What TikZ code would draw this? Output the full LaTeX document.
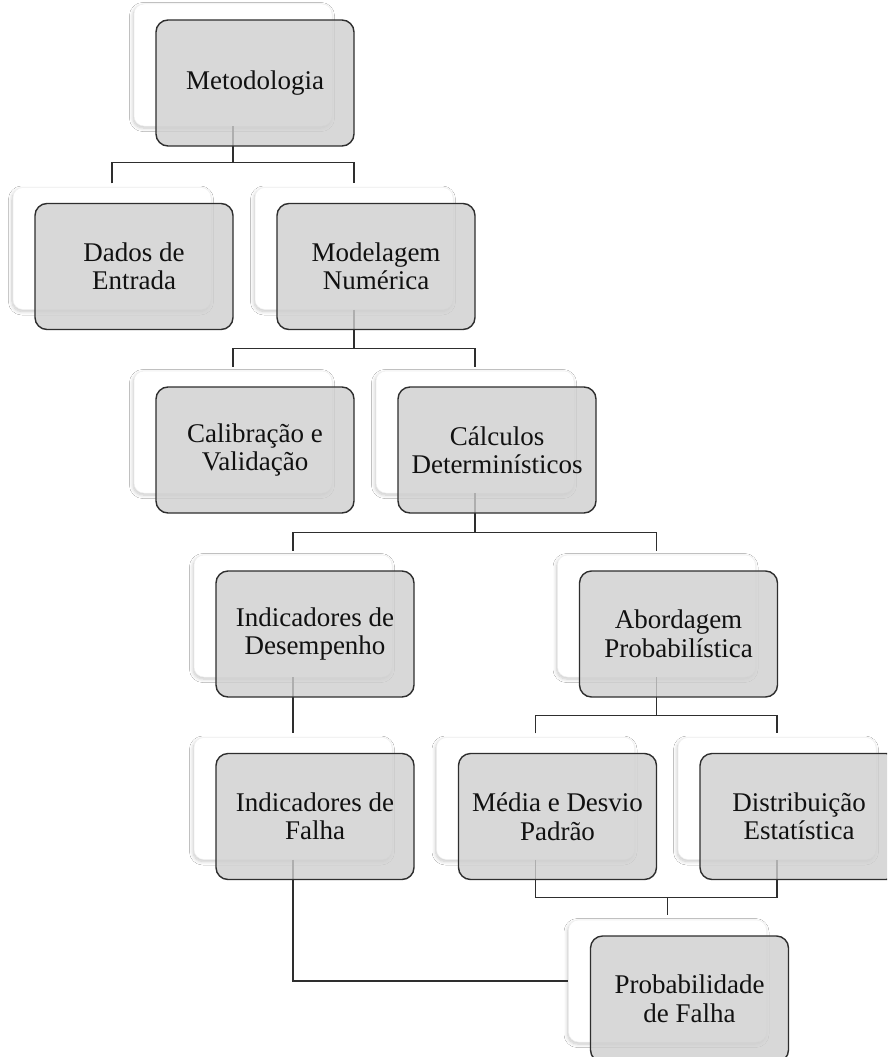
\documentclass[tikz,border=0pt]{standalone}
\usepackage{fontspec}
\setmainfont{Liberation Serif}
\usetikzlibrary{shadows.blur}
\definecolor{boxfill}{HTML}{CFCFCF}
\definecolor{inkline}{HTML}{2E2E2E}
\definecolor{inktext}{HTML}{111111}
\tikzset{
  backbox/.style={rectangle, rounded corners=10pt, minimum width=198pt,
    minimum height=122pt, fill=white, draw=black!6, line width=0.5pt,
    blur shadow={shadow xshift=-1pt, shadow yshift=-2pt,
      shadow blur radius=3.5pt, shadow blur steps=8, shadow opacity=22}},
  graybox/.style={rectangle, rounded corners=12pt, minimum width=198pt,
    minimum height=126pt, fill=boxfill, fill opacity=0.8, text opacity=1,
    draw=inkline, line width=1.4pt, align=center, text=inktext,
    font=\fontsize{27}{28.5}\selectfont},
  link/.style={draw=inkline, line width=1.5pt}
}
\begin{document}
\begin{tikzpicture}[x=1pt, y=-1pt]
\useasboundingbox (0,0) rectangle (887,1057);
\clip (0,0) rectangle (887,1057);
\fill[white] (0,0) rectangle (887,1057);

% white card behind each box
\node[backbox] (b1)  at (233, 65) {};
\node[backbox] (b2)  at (112, 248.5) {};
\node[backbox] (b3)  at (354, 248.5) {};
\node[backbox] (b4)  at (233, 432) {};
\node[backbox] (b5)  at (475, 432) {};
\node[backbox] (b6)  at (293, 616) {};
\node[backbox] (b7)  at (656.5, 616) {};
\node[backbox] (b8)  at (293, 798.5) {};
\node[backbox] (b9)  at (535.5, 798.5) {};
\node[backbox] (b10) at (777, 798.5) {};
\node[backbox] (b11) at (667.5, 981) {};

% tree connectors
\draw[link] (b1.south) -- ++(0,36) coordinate (j1);
\draw[link] ([yshift=4pt]b2.north) |- (j1) -| ([yshift=4pt]b3.north);

\draw[link] (b3.south) -- ++(0,38.5) coordinate (j2);
\draw[link] ([yshift=4pt]b4.north) |- (j2) -| ([yshift=4pt]b5.north);

\draw[link] (b5.south) -- ++(0,39) coordinate (j3);
\draw[link] ([yshift=4pt]b6.north) |- (j3) -| ([yshift=4pt]b7.north);

\draw[link] (b6.south) -- ([yshift=4pt]b8.north);

\draw[link] (b7.south) -- ++(0,38) coordinate (j4);
\draw[link] ([yshift=4pt]b9.north) |- (j4) -| ([yshift=4pt]b10.north);

\draw[link] (b9.south) -- ++(0,37.5) coordinate (j5) -| (b10.south);
\draw[link] (b11.north |- j5) -- ([yshift=5pt]b11.north);

\draw[link] (b8.south) |- (b11.west);

% labelled boxes
\node[graybox] (g1)  at ([shift={(22,18)}]b1.center)  {Metodologia};
\node[graybox] (g2)  at ([shift={(22,18)}]b2.center)  {Dados de\\Entrada};
\node[graybox] (g3)  at ([shift={(22,18)}]b3.center)  {Modelagem\\Numérica};
\node[graybox] (g4)  at ([shift={(22,18)}]b4.center)  {Calibração e\\Validação};
\node[graybox] (g5)  at ([shift={(22,18)}]b5.center)  {Cálculos\\Determinísticos};
\node[graybox] (g6)  at ([shift={(22,18)}]b6.center)  {Indicadores de\\Desempenho};
\node[graybox] (g7)  at ([shift={(22,18)}]b7.center)  {Abordagem\\Probabilística};
\node[graybox] (g8)  at ([shift={(22,18)}]b8.center)  {Indicadores de\\Falha};
\node[graybox] (g9)  at ([shift={(22,18)}]b9.center)  {Média e Desvio\\Padrão};
\node[graybox] (g10) at ([shift={(22,18)}]b10.center) {Distribuição\\Estatística};
\node[graybox] (g11) at ([shift={(22,18)}]b11.center) {Probabilidade\\de Falha};
\end{tikzpicture}
\end{document}
